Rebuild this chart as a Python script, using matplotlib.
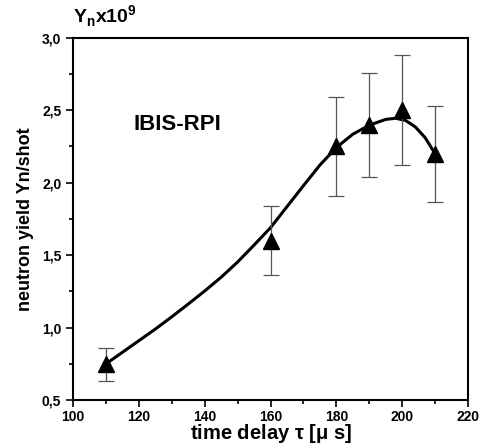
import numpy as np
from matplotlib import pyplot as plt
from matplotlib.ticker import MultipleLocator, FuncFormatter

plt.rcParams.update({"font.family": "Liberation Sans", "font.weight": "bold"})

# measured points (time delay in us, neutron yield in 1e9)
delay = [110, 160, 180, 190, 200, 210]
yield_n = [0.75, 1.60, 2.25, 2.40, 2.50, 2.20]
err_lo = [0.63, 1.36, 1.91, 2.04, 2.12, 1.87]
err_hi = [0.86, 1.84, 2.59, 2.76, 2.88, 2.53]

# smooth guide curve
curve_x = [110, 115, 120, 125, 130, 135, 140, 145, 150, 155, 160, 165, 170,
           175, 180, 185, 190, 195, 198, 201, 204, 207, 210]
curve_y = [0.75, 0.83, 0.91, 0.99, 1.075, 1.163, 1.253, 1.348, 1.453, 1.57, 1.69, 1.835, 1.98,
           2.122, 2.243, 2.335, 2.397, 2.437, 2.445, 2.43, 2.385, 2.31, 2.20]

fig = plt.figure(figsize=(4.81, 4.45), dpi=100)
ax = fig.add_axes([0.152, 0.101, 0.821, 0.814])

ax.plot(curve_x, curve_y, '-', color='black', lw=2.2, solid_joinstyle='round')

y = np.array(yield_n)
yerr = [y - np.array(err_lo), np.array(err_hi) - y]
ax.errorbar(delay, y, yerr=yerr, fmt='none', ecolor='#555555', elinewidth=0.9,
            capsize=6, capthick=0.9)
ax.plot(delay, y, '^', color='black', ms=11, ls='none')

ax.set_xlim(100, 220)
ax.set_ylim(0.5, 3.0)
ax.xaxis.set_major_locator(MultipleLocator(20))
ax.xaxis.set_minor_locator(MultipleLocator(10))
ax.yaxis.set_major_locator(MultipleLocator(0.5))
ax.yaxis.set_minor_locator(MultipleLocator(0.25))
ax.yaxis.set_major_formatter(FuncFormatter(lambda v, p: ("%.1f" % v).replace('.', ',')))

ax.tick_params(which='both', direction='out', top=False, right=False, width=1.2)
ax.tick_params(which='major', length=5, labelsize=10)
ax.tick_params(axis='x', which='major', pad=2)
ax.tick_params(which='minor', length=3)
for s in ax.spines.values():
    s.set_linewidth(1.5)

ax.set_xlabel(r"time delay $\mathregular{\tau}$ [$\mathregular{\mu}$ s]", fontsize=14.5,
              fontweight='bold', labelpad=-1)
ax.set_ylabel("neutron yield Yn/shot", fontsize=13, fontweight='bold', labelpad=6)

ax.text(0.0, 1.025, r"Y$_\mathregular{n}$x10$^\mathregular{9}$", transform=ax.transAxes,
        fontsize=14, fontweight='bold', ha='left', va='bottom')
ax.text((133 - 73) / (468 - 73), 0.76, "IBIS-RPI", transform=ax.transAxes, fontsize=16,
        fontweight='bold', ha='left', va='center')

plt.savefig("out.png", dpi=100)
